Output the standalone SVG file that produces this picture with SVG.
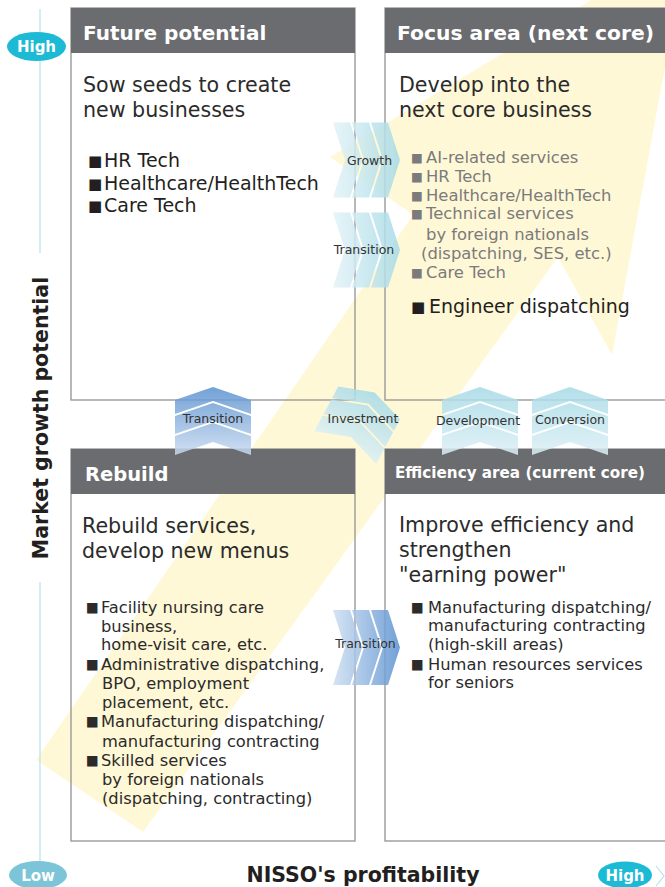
<svg xmlns="http://www.w3.org/2000/svg" xmlns:xlink="http://www.w3.org/1999/xlink" width="665" height="887" viewBox="0 0 665 887">
  <style>
    text { font-family: "DejaVu Sans", "Noto Sans", sans-serif; }
    .hd { font-weight: bold; fill: #ffffff; }
    .sub { font-size: 20.6px; fill: #2b2b2b; }
    .lg { font-size: 19px; fill: #231f20; }
    .gr { font-size: 16.4px; fill: #7b7b7b; }
    .md { font-size: 16.3px; fill: #2b2b2b; }
    .lbl { font-size: 12.5px; fill: #333333; text-anchor: middle; }
    .axis { font-weight: bold; fill: #231f20; }
    .pill { font-weight: bold; font-size: 15px; fill: #ffffff; text-anchor: middle; }
    .box { fill: none; stroke: #9a9a9a; stroke-width: 1.4; }
    .bar { fill: #6b6c70; }
    .chev { opacity: 0.85; }
    .sqL { font-size: 15px; }
    .sqM { font-size: 13.5px; }
    .sqS { font-size: 12.5px; }
  </style>
  <defs>
    <linearGradient id="gCyanH" gradientUnits="userSpaceOnUse" x1="0" y1="0" x2="67" y2="0">
      <stop offset="0" stop-color="#e4f3f8"/>
      <stop offset="1" stop-color="#a6dae7"/>
    </linearGradient>
    <linearGradient id="gBlueH" gradientUnits="userSpaceOnUse" x1="0" y1="0" x2="67" y2="0">
      <stop offset="0" stop-color="#cfe0f2"/>
      <stop offset="1" stop-color="#5a91d0"/>
    </linearGradient>
    <linearGradient id="gCyanV" gradientUnits="userSpaceOnUse" x1="0" y1="0" x2="0" y2="68">
      <stop offset="0" stop-color="#a6dae7"/>
      <stop offset="1" stop-color="#ddf0f6"/>
    </linearGradient>
    <linearGradient id="gBlueV" gradientUnits="userSpaceOnUse" x1="0" y1="0" x2="0" y2="68">
      <stop offset="0" stop-color="#5a91d0"/>
      <stop offset="1" stop-color="#c9dbf0"/>
    </linearGradient>
    <!-- three-part chevron pointing right; origin at left edge, vertical centre -->
    <g id="chevH">
      <path d="M0,-37.5 L17,-37.5 L29,0 L17,37.5 L0,37.5 L12,0 Z"/>
      <path d="M19,-37.5 L36,-37.5 L48,0 L36,37.5 L19,37.5 L31,0 Z"/>
      <path d="M38,-37.5 L55,-37.5 L67,0 L55,37.5 L38,37.5 L50,0 Z"/>
    </g>
    <!-- three-part chevron pointing up; origin at the tip -->
    <g id="chevV">
      <path d="M0,0 L38,13 L38,27 L0,14 L-38,27 L-38,13 Z"/>
      <path d="M0,16 L38,29 L38,47 L0,34 L-38,47 L-38,29 Z"/>
      <path d="M0,36 L38,49 L38,68 L0,55 L-38,68 L-38,49 Z"/>
    </g>
  </defs>

  <rect width="665" height="887" fill="#ffffff"/>

  <!-- broad background arrow running from low/low to high/high -->
  <polygon id="trend" points="688,-58 612,355 558,257 143,832 36,760 413,215 330,157" fill="#fff8d6"/>

  <!-- vertical axis -->
  <g id="axis-y">
    <line x1="40" y1="9" x2="40" y2="253" stroke="#b5e3ea" stroke-width="1.2"/>
    <line x1="40" y1="582" x2="40" y2="862" stroke="#b5e3ea" stroke-width="1.2"/>
    <ellipse cx="36.5" cy="46.5" rx="29.5" ry="14.5" fill="#1dbad6"/>
    <text class="pill" x="36.5" y="52">High</text>
    <text class="axis" font-size="20.5" transform="translate(48,418) rotate(-90)" text-anchor="middle">Market growth potential</text>
    <ellipse cx="38" cy="875" rx="29" ry="14" fill="#7cc5d8"/>
    <text class="pill" x="38" y="881">Low</text>
  </g>

  <!-- horizontal axis -->
  <g id="axis-x">
    <text class="axis" font-size="20.5" x="363" y="882" text-anchor="middle">NISSO's profitability</text>
    <ellipse cx="625" cy="875" rx="27" ry="13.5" fill="#1dbad6"/>
    <text class="pill" x="625" y="881">High</text>
    <polyline points="656,866 664,876 656,886" fill="none" stroke="#b5e3ea" stroke-width="1.2"/>
  </g>

  <!-- top-left quadrant -->
  <g id="future-potential">
    <rect class="box" x="71" y="8" width="284" height="392"/>
    <rect class="bar" x="71" y="8" width="284" height="45"/>
    <text class="hd" font-size="20" x="83" y="40">Future potential</text>
    <text class="sub" x="83" y="92">Sow seeds to create</text>
    <text class="sub" x="83" y="117">new businesses</text>
    <text class="lg"><tspan class="sqL" x="88" y="166">■</tspan><tspan x="104" y="167">HR Tech</tspan></text>
    <text class="lg"><tspan class="sqL" x="88" y="189">■</tspan><tspan x="104" y="190">Healthcare/HealthTech</tspan></text>
    <text class="lg"><tspan class="sqL" x="88" y="211">■</tspan><tspan x="104" y="212">Care Tech</tspan></text>
  </g>

  <!-- top-right quadrant -->
  <g id="focus-area">
    <rect class="box" x="385" y="8" width="300" height="392"/>
    <rect class="bar" x="385" y="8" width="300" height="45"/>
    <text class="hd" font-size="20.3" x="397" y="40">Focus area (next core)</text>
    <text class="sub" x="399" y="92">Develop into the</text>
    <text class="sub" x="399" y="117">next core business</text>
    <text class="gr"><tspan class="sqS" x="411" y="162">■</tspan><tspan x="426" y="163">AI-related services</tspan></text>
    <text class="gr"><tspan class="sqS" x="411" y="181">■</tspan><tspan x="426" y="182">HR Tech</tspan></text>
    <text class="gr"><tspan class="sqS" x="411" y="200">■</tspan><tspan x="426" y="201">Healthcare/HealthTech</tspan></text>
    <text class="gr"><tspan class="sqS" x="411" y="218">■</tspan><tspan x="426" y="219">Technical services</tspan></text>
    <text class="gr" x="426" y="240">by foreign nationals</text>
    <text class="gr" x="421" y="259">(dispatching, SES, etc.)</text>
    <text class="gr"><tspan class="sqS" x="411" y="277">■</tspan><tspan x="426" y="278">Care Tech</tspan></text>
    <text class="lg"><tspan class="sqL" x="411" y="312">■</tspan><tspan x="429" y="313">Engineer dispatching</tspan></text>
  </g>

  <!-- bottom-left quadrant -->
  <g id="rebuild">
    <rect class="box" x="71" y="449" width="284" height="392"/>
    <rect class="bar" x="71" y="449" width="284" height="45"/>
    <text class="hd" font-size="19.5" x="85" y="481">Rebuild</text>
    <text class="sub" x="82" y="533">Rebuild services,</text>
    <text class="sub" x="82" y="558">develop new menus</text>
    <text class="md"><tspan class="sqM" x="86" y="612">■</tspan><tspan x="101" y="613">Facility nursing care</tspan></text>
    <text class="md" x="101" y="632">business,</text>
    <text class="md" x="101" y="650">home-visit care, etc.</text>
    <text class="md"><tspan class="sqM" x="86" y="669">■</tspan><tspan x="101" y="670">Administrative dispatching,</tspan></text>
    <text class="md" x="102" y="689">BPO, employment</text>
    <text class="md" x="102" y="708">placement, etc.</text>
    <text class="md"><tspan class="sqM" x="86" y="726">■</tspan><tspan x="101" y="727">Manufacturing dispatching/</tspan></text>
    <text class="md" x="102" y="747">manufacturing contracting</text>
    <text class="md"><tspan class="sqM" x="86" y="765">■</tspan><tspan x="101" y="766">Skilled services</tspan></text>
    <text class="md" x="102" y="785">by foreign nationals</text>
    <text class="md" x="102" y="804">(dispatching, contracting)</text>
  </g>

  <!-- bottom-right quadrant -->
  <g id="efficiency-area">
    <rect class="box" x="385" y="449" width="300" height="392"/>
    <rect class="bar" x="385" y="449" width="300" height="45"/>
    <text class="hd" font-size="15.2" x="395" y="478">Efficiency area (current core)</text>
    <text class="sub" x="399" y="532">Improve efficiency and</text>
    <text class="sub" x="399" y="557">strengthen</text>
    <text class="sub" x="399" y="582">"earning power"</text>
    <text class="md"><tspan class="sqM" x="411" y="612">■</tspan><tspan x="428" y="613">Manufacturing dispatching/</tspan></text>
    <text class="md" x="428" y="631">manufacturing contracting</text>
    <text class="md" x="428" y="650">(high-skill areas)</text>
    <text class="md"><tspan class="sqM" x="411" y="669">■</tspan><tspan x="428" y="670">Human resources services</tspan></text>
    <text class="md" x="428" y="688">for seniors</text>
  </g>

  <!-- transitions between quadrants -->
  <g id="connectors">
    <use class="chev" xlink:href="#chevH" href="#chevH" fill="url(#gCyanH)" transform="translate(333,160)"/>
    <use class="chev" xlink:href="#chevH" href="#chevH" fill="url(#gCyanH)" transform="translate(333,250)"/>
    <use class="chev" xlink:href="#chevH" href="#chevH" fill="url(#gBlueH)" transform="translate(333,647.5)"/>
    <use class="chev" xlink:href="#chevV" href="#chevV" fill="url(#gBlueV)" transform="translate(213,387)"/>
    <use class="chev" xlink:href="#chevV" href="#chevV" fill="url(#gCyanV)" transform="translate(480,387)"/>
    <use class="chev" xlink:href="#chevV" href="#chevV" fill="url(#gCyanV)" transform="translate(570,387)"/>
    <use class="chev" xlink:href="#chevV" href="#chevV" fill="url(#gCyanV)" transform="translate(360,420) rotate(28) scale(0.92) translate(0,-34)"/>
    <text class="lbl" x="369.5" y="165">Growth</text>
    <text class="lbl" x="364" y="254">Transition</text>
    <text class="lbl" x="365.5" y="648">Transition</text>
    <text class="lbl" x="213" y="423">Transition</text>
    <text class="lbl" x="363" y="423">Investment</text>
    <text class="lbl" x="478" y="425">Development</text>
    <text class="lbl" x="570" y="424">Conversion</text>
  </g>
</svg>
